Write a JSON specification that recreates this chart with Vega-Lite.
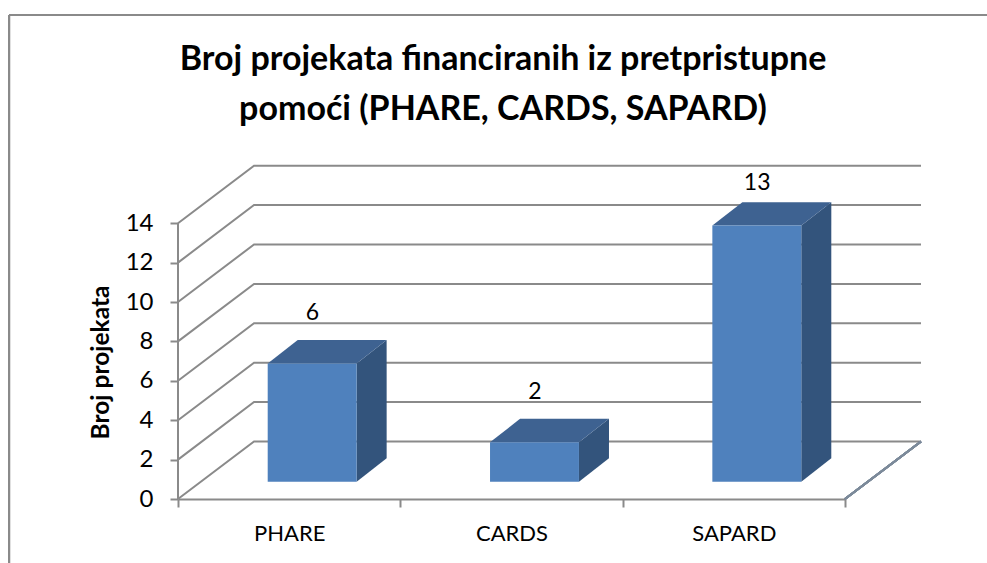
{
"$schema":"https://vega.github.io/schema/vega-lite/v6.json",
"width":978,"height":548,"autosize":"none",
"padding":{"left":9,"top":15,"right":0,"bottom":0},
"background":"white",
"config":{"view":{"stroke":null},"font":"Lato"},
"title":{"text":["Broj projekata financiranih iz pretpristupne","pomoći (PHARE, CARDS, SAPARD)"],"anchor":"middle","frame":"group","font":"Lato","fontSize":34,"fontWeight":"bold","color":"#000000","lineHeight":50,"baseline":"top","dx":5,"dy":113,"offset":0},
"datasets":{
"bars":[{"name":"PHARE","value":6},{"name":"CARDS","value":2},{"name":"SAPARD","value":13}],
"ticks":[{"tick":0},{"tick":2},{"tick":4},{"tick":6},{"tick":8},{"tick":10},{"tick":12},{"tick":14}]
},
"layer":[
{"layer":[
{"data":{"name":"ticks"},
 "transform":[{"calculate":"[{x:0,y:datum.tick},{x:0.342,y:datum.tick+2.92},{x:3.342,y:datum.tick+2.92}]","as":"pts"},{"flatten":["pts"]}],
 "mark":{"type":"line","stroke":"#8a8a8a","strokeWidth":2},
 "encoding":{
  "x":{"field":"pts.x","type":"quantitative","scale":{"domain":[0,3.342],"range":[169,912],"nice":false,"zero":false},"axis":null},
  "y":{"field":"pts.y","type":"quantitative","scale":{"domain":[0,17],"range":[484,149.1],"nice":false,"zero":false},
   "axis":{"values":[0,2,4,6,8,10,12,14],"offset":-169,"domain":false,"grid":false,"tickSize":8,"tickWidth":2,"tickColor":"#8a8a8a","labelFont":"Lato","labelFontSize":24,"labelColor":"#000000","labelPadding":17,"title":"Broj projekata","titleFont":"Lato","titleFontSize":24.5,"titleFontWeight":"bold","titleColor":"#000000","titleX":-65,"titleY":347,"titleAngle":-90}},
  "detail":{"field":"tick","type":"nominal"}}},
{"data":{"name":"ticks"},"mark":{"type":"rule","stroke":"#8a8a8a","strokeWidth":2},
 "encoding":{
  "x":{"datum":0,"type":"quantitative","scale":{"domain":[0,3.342],"range":[169,912],"nice":false,"zero":false},"axis":null},
  "y":{"datum":0,"type":"quantitative","scale":{"domain":[0,17],"range":[484,149.1],"nice":false,"zero":false}},
  "y2":{"datum":14}}},
{"data":{"name":"ticks"},"mark":{"type":"rule","stroke":"#7c8a9a","strokeWidth":2},
 "encoding":{
  "x":{"datum":3,"type":"quantitative","scale":{"domain":[0,3.342],"range":[169,912],"nice":false,"zero":false},"axis":null},
  "x2":{"datum":3.342},
  "y":{"datum":0,"type":"quantitative","scale":{"domain":[0,17],"range":[484,149.1],"nice":false,"zero":false}},
  "y2":{"datum":2.92}}},
{"data":{"name":"ticks"},"mark":{"type":"rule","stroke":"#8a8a8a","strokeWidth":2},
 "encoding":{
  "x":{"datum":-0.76,"type":"quantitative","scale":{"domain":[0,3.342],"range":[169,912],"nice":false,"zero":false},"axis":null},
  "y":{"datum":24.57,"type":"quantitative","scale":{"domain":[0,17],"range":[484,149.1],"nice":false,"zero":false}},
  "y2":{"datum":-3.25}}},
{"data":{"name":"ticks"},"mark":{"type":"rule","stroke":"#8a8a8a","strokeWidth":2},
 "encoding":{
  "x":{"datum":-0.76,"type":"quantitative","scale":{"domain":[0,3.342],"range":[169,912],"nice":false,"zero":false},"axis":null},
  "x2":{"datum":3.64},
  "y":{"datum":24.57,"type":"quantitative","scale":{"domain":[0,17],"range":[484,149.1],"nice":false,"zero":false}}}},
{"data":{"name":"bars"},
 "transform":[{"calculate":"indexof(['PHARE','CARDS','SAPARD'],datum.name)+0.4035","as":"xL"},{"calculate":"datum.xL+0.4","as":"xR"},{"calculate":"0.878+datum.value","as":"top"},
  {"calculate":"[{x:datum.xR,a:0.878,b:datum.top},{x:datum.xR+0.135,a:2.068,b:datum.top+1.19}]","as":"pts"},{"flatten":["pts"]}],
 "mark":{"type":"area","orient":"vertical","fill":"#33547c"},
 "encoding":{
  "x":{"field":"pts.x","type":"quantitative","scale":{"domain":[0,3.342],"range":[169,912],"nice":false,"zero":false},"axis":null},
  "y":{"field":"pts.a","type":"quantitative","scale":{"domain":[0,17],"range":[484,149.1],"nice":false,"zero":false}},
  "y2":{"field":"pts.b"},
  "detail":{"field":"name","type":"nominal"}}},
{"data":{"name":"bars"},
 "transform":[{"calculate":"indexof(['PHARE','CARDS','SAPARD'],datum.name)+0.4035","as":"xL"},{"calculate":"datum.xL+0.4","as":"xR"},{"calculate":"0.878+datum.value","as":"top"},
  {"calculate":"[{x:datum.xL,a:datum.top,b:datum.top},{x:datum.xL+0.135,a:datum.top,b:datum.top+1.19},{x:datum.xR,a:datum.top,b:datum.top+1.19},{x:datum.xR+0.135,a:datum.top+1.19,b:datum.top+1.19}]","as":"pts"},{"flatten":["pts"]}],
 "mark":{"type":"area","orient":"vertical","fill":"#3e6291"},
 "encoding":{
  "x":{"field":"pts.x","type":"quantitative","scale":{"domain":[0,3.342],"range":[169,912],"nice":false,"zero":false},"axis":null},
  "y":{"field":"pts.a","type":"quantitative","scale":{"domain":[0,17],"range":[484,149.1],"nice":false,"zero":false}},
  "y2":{"field":"pts.b"},
  "detail":{"field":"name","type":"nominal"}}},
{"data":{"name":"bars"},
 "transform":[{"calculate":"indexof(['PHARE','CARDS','SAPARD'],datum.name)+0.4035","as":"xL"},{"calculate":"datum.xL+0.4","as":"xR"},{"calculate":"0.878","as":"bottom"},{"calculate":"0.878+datum.value","as":"top"}],
 "mark":{"type":"rect","fill":"#4f81bd"},
 "encoding":{
  "x":{"field":"xL","type":"quantitative","scale":{"domain":[0,3.342],"range":[169,912],"nice":false,"zero":false},"axis":null},
  "x2":{"field":"xR"},
  "y":{"field":"bottom","type":"quantitative","scale":{"domain":[0,17],"range":[484,149.1],"nice":false,"zero":false}},
  "y2":{"field":"top"}}},
{"data":{"name":"bars"},
 "transform":[{"calculate":"indexof(['PHARE','CARDS','SAPARD'],datum.name)+0.605","as":"lx"},{"calculate":"min(datum.value+3.45,16.05)","as":"ly"}],
 "mark":{"type":"text","font":"Lato","fontSize":23,"color":"#000000"},
 "encoding":{
  "x":{"field":"lx","type":"quantitative","scale":{"domain":[0,3.342],"range":[169,912],"nice":false,"zero":false},"axis":null},
  "y":{"field":"ly","type":"quantitative","scale":{"domain":[0,17],"range":[484,149.1],"nice":false,"zero":false}},
  "text":{"field":"value","type":"quantitative"}}}
]},
{"data":{"name":"bars"},
 "mark":{"type":"text","opacity":0,"text":""},
 "encoding":{
  "x":{"field":"name","type":"nominal","sort":null,"scale":{"type":"band","range":[169,836],"paddingInner":0,"paddingOuter":0},
   "axis":{"orient":"bottom","offset":-64,"title":null,"labelAngle":0,"tickBand":"extent","tickSize":8,"tickWidth":2,"tickColor":"#8a8a8a","domainColor":"#8a8a8a","domainWidth":2,"labelFont":"Lato","labelFontSize":22,"labelColor":"#000000","labelPadding":16,"grid":false}}}}
],
"resolve":{"scale":{"x":"independent"},"axis":{"x":"independent"}}
}
